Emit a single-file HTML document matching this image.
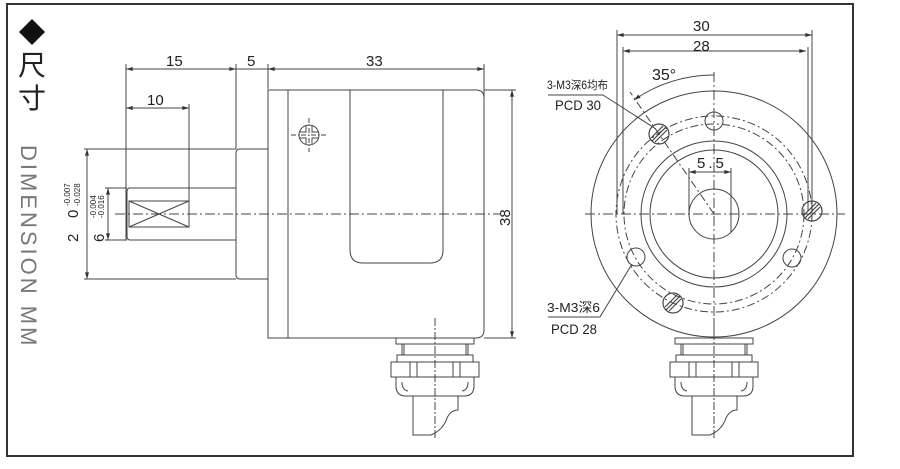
<!DOCTYPE html>
<html><head><meta charset="utf-8"><style>
html,body{margin:0;padding:0;background:#fff;}
svg{display:block;}
text{font-family:"Liberation Sans","Noto Sans CJK SC",sans-serif;fill:#222;}
</style></head><body>
<svg width="900" height="469" viewBox="0 0 900 469" xmlns="http://www.w3.org/2000/svg">
<defs>
<marker id="a" viewBox="0 0 10 6" refX="10" refY="3" markerWidth="7" markerHeight="4" orient="auto-start-reverse"><path d="M0,0L10,3L0,6z" fill="#333"/></marker>
<g id="gland" fill="none" stroke="#444" stroke-width="1">
<rect x="-39" y="0" width="78" height="6"/>
<line x1="-33" y1="6" x2="-33" y2="17"/><line x1="-31" y1="6" x2="-31" y2="17"/>
<line x1="33" y1="6" x2="33" y2="17"/><line x1="31" y1="6" x2="31" y2="17"/>
<rect x="-38" y="17" width="76" height="7"/>
<rect x="-44" y="24" width="88" height="15"/>
<line x1="-25" y1="24" x2="-25" y2="39"/><line x1="-18" y1="24" x2="-18" y2="39"/>
<line x1="18" y1="24" x2="18" y2="39"/><line x1="25" y1="24" x2="25" y2="39"/>
<path d="M-39,39 V48 Q-39,58 -29,58 H29 Q39,58 39,48 V39"/>
<path d="M-33,44 Q-33,52 -27,53 M33,44 Q33,52 27,53"/>
<path d="M-22,58 V97 H-4 Q8,92 12,80 Q16,72 23,72 V58"/>
<line x1="0" y1="-20" x2="0" y2="102" stroke-dasharray="8,2,2,2"/>
</g>
</defs>
<rect x="7" y="4" width="846" height="452" fill="none" stroke="#333" stroke-width="2"/>
<path d="M32,19 L45,32 L32,45 L19,32z" fill="#111"/>
<text x="18" y="75" font-size="28">尺</text>
<text x="18" y="108" font-size="28">寸</text>
<text transform="translate(21,145) rotate(90)" font-size="22" fill="#777" style="fill:#777" letter-spacing="3">DIMENSION  MM</text>

<g fill="none" stroke="#444" stroke-width="1">
<line x1="126" y1="64" x2="126" y2="240"/>
<line x1="189" y1="104" x2="189" y2="227"/>
<line x1="236" y1="64" x2="236" y2="149"/>
<line x1="268" y1="64" x2="268" y2="89"/>
<line x1="484" y1="64" x2="484" y2="99"/>
<line x1="126" y1="69" x2="236" y2="69" marker-start="url(#a)" marker-end="url(#a)"/>
<line x1="228" y1="69" x2="276" y2="69"/>
<line x1="268" y1="69" x2="484" y2="69" marker-start="url(#a)" marker-end="url(#a)"/>
<line x1="126" y1="108" x2="189" y2="108" marker-start="url(#a)" marker-end="url(#a)"/>
<path d="M236,188 H130 Q127,188 127,192 V236 Q127,240 130,240 H236"/>
<rect x="129" y="201" width="60" height="26"/>
<line x1="129" y1="201" x2="189" y2="227"/><line x1="129" y1="227" x2="189" y2="201"/>
<path d="M268,149 H240 Q236,149 236,153 V275 Q236,279 240,279 H268"/>
<line x1="84" y1="149" x2="236" y2="149"/><line x1="84" y1="279" x2="236" y2="279"/>
<line x1="87" y1="149" x2="87" y2="279" marker-start="url(#a)" marker-end="url(#a)"/>
<line x1="105" y1="188" x2="127" y2="188"/><line x1="105" y1="240" x2="127" y2="240"/>
<line x1="108" y1="188" x2="108" y2="240" marker-start="url(#a)" marker-end="url(#a)"/>
<path d="M268,90 H476 Q484,90 484,98 V330 Q484,338 476,338 H268z"/>
<line x1="288" y1="90" x2="288" y2="338"/>
<path d="M350,90 V250 Q350,263 363,263 H430 Q443,263 443,250 V90"/>
<line x1="484" y1="90" x2="516" y2="90"/><line x1="484" y1="338" x2="516" y2="338"/>
<line x1="512" y1="90" x2="512" y2="338" marker-start="url(#a)" marker-end="url(#a)"/>
<circle cx="309" cy="135" r="10"/>
<path d="M306,126 V132 H300 M312,126 V132 H318 M306,144 V138 H300 M312,144 V138 H318"/>
<line x1="309" y1="118" x2="309" y2="152" stroke-dasharray="5,2,1,2"/>
<line x1="291" y1="135" x2="327" y2="135" stroke-dasharray="5,2,1,2"/>
<line x1="115" y1="214" x2="500" y2="214" stroke-dasharray="10,3,2,3"/>
</g>
<use href="#gland" x="435" y="338"/>
<text x="166" y="66" font-size="15">15</text>
<text x="247" y="66" font-size="15">5</text>
<text x="366" y="66" font-size="15">33</text>
<text x="147" y="105" font-size="15">10</text>
<text transform="translate(510,226) rotate(-90)" font-size="15">38</text>
<text transform="translate(78,242) rotate(-90)" font-size="15">2</text>
<text transform="translate(78,218) rotate(-90)" font-size="15">0</text>
<text transform="translate(70,206) rotate(-90)" font-size="8">-0.007</text>
<text transform="translate(80,206) rotate(-90)" font-size="8">-0.028</text>
<text transform="translate(104,242) rotate(-90)" font-size="15">6</text>
<text transform="translate(96,218) rotate(-90)" font-size="8">-0.004</text>
<text transform="translate(104,218) rotate(-90)" font-size="8">-0.016</text>

<g fill="none" stroke="#444" stroke-width="1">
<circle cx="714" cy="214" r="123"/>
<circle cx="714" cy="214" r="73"/>
<circle cx="714" cy="214" r="64"/>
<circle cx="714" cy="214" r="25"/>
<circle cx="714" cy="214" r="98" stroke-dasharray="8,3,2,3"/>
<circle cx="714" cy="214" r="90" stroke-dasharray="8,3,2,3"/>
<line x1="585" y1="214" x2="845" y2="214" stroke-dasharray="10,3,2,3"/>
<line x1="714" y1="72" x2="714" y2="337" stroke-dasharray="10,3,2,3"/>
<line x1="617" y1="30" x2="617" y2="214"/>
<line x1="812" y1="30" x2="812" y2="211"/>
<line x1="623" y1="47" x2="623" y2="214"/>
<line x1="808" y1="47" x2="808" y2="211"/>
<line x1="617" y1="35" x2="812" y2="35" marker-start="url(#a)" marker-end="url(#a)"/>
<line x1="623" y1="51" x2="806" y2="51" marker-start="url(#a)" marker-end="url(#a)"/>
<line x1="689" y1="168" x2="689" y2="214"/>
<line x1="731" y1="168" x2="731" y2="232"/>
<line x1="689" y1="172" x2="731" y2="172" marker-start="url(#a)" marker-end="url(#a)"/>
<path d="M714,75 A139,139 0 0 0 634,100" marker-end="url(#a)"/>
<line x1="714" y1="214" x2="630" y2="92" stroke-dasharray="8,3,2,3"/>
<circle cx="714" cy="121" r="9"/>
<circle cx="636" cy="257" r="9"/>
<circle cx="792" cy="258" r="9"/>
<g stroke-width="1.2">
<circle cx="659" cy="134" r="10"/><path d="M652,141 L666,127 M655,142 L667,130 M651,138 L663,126"/>
<circle cx="812" cy="211" r="10"/><path d="M805,218 L819,204 M808,219 L820,207 M804,215 L816,203"/>
<circle cx="673" cy="303" r="10"/><path d="M666,310 L680,296 M669,311 L681,299 M665,307 L677,295"/>
</g>
<line x1="548" y1="95" x2="603" y2="95"/>
<line x1="603" y1="95" x2="656" y2="129"/>
<line x1="548" y1="317" x2="600" y2="317"/>
<line x1="600" y1="317" x2="632" y2="264"/>
</g>
<use href="#gland" x="714" y="338"/>
<text x="693" y="31" font-size="15">30</text>
<text x="693" y="51" font-size="15">28</text>
<text x="697" y="168" font-size="15" letter-spacing="3">5.5</text>
<text x="652" y="80" font-size="16">35°</text>
<text x="547" y="89" font-size="11.5" textLength="61" lengthAdjust="spacingAndGlyphs">3-M3深6均布</text>
<text x="555" y="110" font-size="14" textLength="46" lengthAdjust="spacingAndGlyphs">PCD 30</text>
<text x="547" y="312" font-size="13" textLength="53" lengthAdjust="spacingAndGlyphs">3-M3深6</text>
<text x="551" y="334" font-size="14" textLength="46" lengthAdjust="spacingAndGlyphs">PCD 28</text>
</svg>
</body></html>
